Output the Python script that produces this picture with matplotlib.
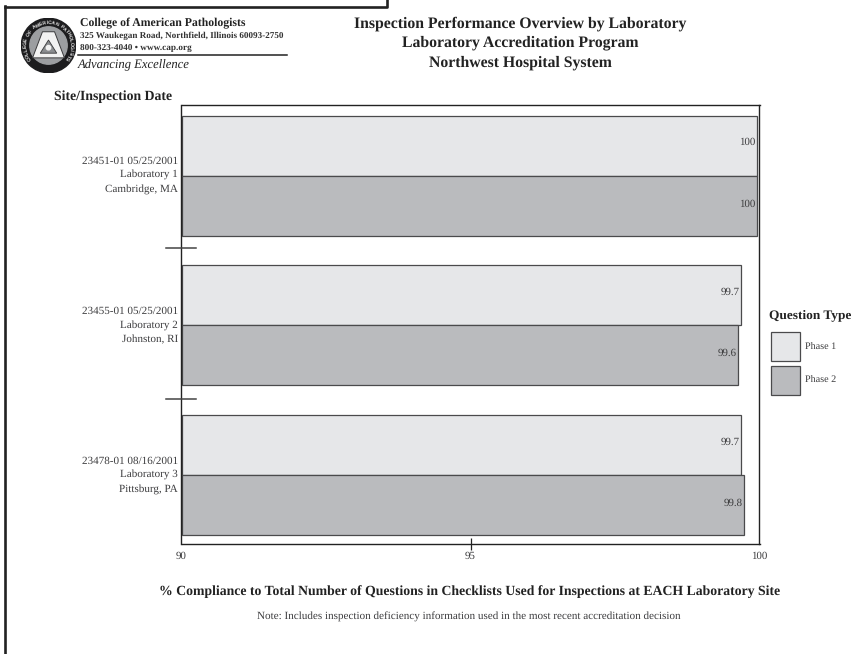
import numpy as np
import matplotlib
matplotlib.use("Agg")
import matplotlib.pyplot as plt
from matplotlib.patches import Circle, Polygon, Rectangle
from matplotlib.lines import Line2D

W, H = 854, 654
sites = ["23451-01 05/25/2001\nLaboratory 1\nCambridge, MA",
         "23455-01 05/25/2001\nLaboratory 2\nJohnston, RI",
         "23478-01 08/16/2001\nLaboratory 3\nPittsburg, PA"]
phase1 = [99.95, 99.68, 99.68]
phase2 = [99.96, 99.63, 99.74]
labels1 = ["100", "99.7", "99.7"]
labels2 = ["100", "99.6", "99.8"]
xticks = [90, 95, 100]
title_lines = ["Inspection Performance Overview by Laboratory",
               "Laboratory Accreditation Program",
               "Northwest Hospital System"]
C1, C2 = "#e6e7e9", "#babbbe"
EDGE = "#4a4a4c"
TXT = "#3c3c3e"
plt.rcParams["font.family"] = ["Liberation Serif"]
plt.rcParams["text.hinting"] = "no_hinting"
plt.rcParams["text.hinting_factor"] = 8

fig = plt.figure(figsize=(W/100, H/100), dpi=100)
def px(x, y):
    return x/W, 1-y/H

L, R, T, B = 181.5, 759.5, 105, 544
ax = fig.add_axes([L/W, 1-B/H, (R-L)/W, (B-T)/H])
ax.set_xlim(90, 100.0)
ax.set_ylim(B, T)
centers = [175.5, 325, 475]
bh = 60
for c, v1, v2, l1, l2 in zip(centers, phase1, phase2, labels1, labels2):
    ax.barh(c-bh/2, v1-90, left=90, height=bh, color=C1, edgecolor=EDGE, linewidth=0.9)
    ax.barh(c+bh/2, v2-90, left=90, height=bh, color=C2, edgecolor=EDGE, linewidth=0.9)
    ax.annotate(l1, (v1, c-bh/2), xytext=(-1, 2), textcoords="offset points", ha="right", va="center", fontsize=7.8, color=TXT)
    ax.annotate(l2, (v2, c+bh/2), xytext=(-1, 1), textcoords="offset points", ha="right", va="center", fontsize=7.8, color=TXT)
ax.set_yticks([])
ax.set_xticks(xticks)
ax.set_xticklabels([str(t) for t in xticks], fontsize=7.8, color=TXT)
ax.xaxis.set_tick_params(direction="inout", length=8, width=0.9, color="#222222", pad=1)
ticks = ax.xaxis.get_major_ticks()
for t in (ticks[0], ticks[2]):
    t.tick1line.set_visible(False)
for s in ax.spines.values():
    s.set_linewidth(1.0); s.set_color("#222222")

for y in (248, 398.5):
    fig.add_artist(Line2D([166/W, 196/W], [1-y/H]*2, color="#444444", lw=1.1))
for y, s in zip([175.5, 325.5, 475.5], sites):
    fig.text(178/W, 1-y/H, s, ha="right", va="center", fontsize=8.05, color=TXT, linespacing=1.55)

fig.text(*px(113.5, 97), "Site/Inspection Date", ha="center", va="center", fontsize=9.95, fontweight="bold", color="#222222")
for y, t in zip([24, 43, 63], title_lines):
    fig.text(*px(520, y), t, ha="center", va="center", fontsize=11.37, fontweight="bold", color="#222222")

fig.text(*px(80, 23), "College of American Pathologists", va="center", fontsize=8.5, fontweight="bold", color="#222222")
fig.text(*px(80, 36), "325 Waukegan Road, Northfield, Illinois 60093-2750", va="center", fontsize=6.6, fontweight="bold", color="#333333")
fig.text(*px(80, 48), "800-323-4040 \u2022 www.cap.org", va="center", fontsize=6.7, fontweight="bold", color="#333333")
fig.add_artist(Line2D([78/W, 287/W], [1-55/H]*2, color="#222222", lw=1.1))
fig.text(*px(78, 64), "Advancing Excellence", va="center", fontsize=9.05, fontstyle="italic", color="#222222")

# logo
la = fig.add_axes([21/W, 1-73/H, 55/W, 55/H]); la.set_xlim(-1, 1); la.set_ylim(-1, 1); la.axis("off")
la.add_patch(Circle((0, 0), 0.99, color="#1c1c1e"))
disc = Circle((0, 0), 0.68, color="#9c9ea1"); la.add_patch(disc)
im = la.imshow(np.linspace(0.85, 0.3, 64)[:, None], extent=(-1, 1, -1, 1), cmap="gray", vmin=0, vmax=1, aspect="auto")
im.set_clip_path(disc)
la.add_patch(Polygon([(-0.22, 0.5), (0.22, 0.5), (0.58, -0.45), (-0.58, -0.45)], closed=True, fc="#f2f2f2", ec="#3a3a3c", lw=0.7))
la.add_patch(Polygon([(0, 0.2), (0.3, -0.28), (-0.3, -0.28)], closed=True, fc="#8a8c8f", ec="#3a3a3c", lw=0.6))
la.add_patch(Circle((0, -0.08), 0.08, color="#f2f2f2"))
ring = "COLLEGE OF AMERICAN PATHOLOGISTS"
for a, ch in zip(np.deg2rad(np.linspace(215, -35, len(ring))), ring):
    la.text(0.83*np.cos(a), 0.83*np.sin(a), ch, rotation=np.rad2deg(a)-90, rotation_mode="anchor",
            ha="center", va="center", fontsize=3.6, fontweight="bold", color="#e8e8e8", family="Liberation Sans")

fig.text(*px(470, 592), "% Compliance to Total Number of Questions in Checklists Used for Inspections at EACH Laboratory Site",
         ha="center", va="center", fontsize=9.93, fontweight="bold", color="#222222")
fig.text(*px(469, 617), "Note: Includes inspection deficiency information used in the most recent accreditation decision",
         ha="center", va="center", fontsize=8.0, color=TXT)

fig.text(*px(769, 315), "Question Type", va="center", fontsize=9.6, fontweight="bold", color="#222222")
for y, c, t, ty in zip([331.5, 366], [C1, C2], ["Phase 1", "Phase 2"], [348, 381]):
    fig.add_artist(Rectangle((771/W, 1-(y+29)/H), 29/W, 29/H, transform=fig.transFigure, fc=c, ec=EDGE, lw=0.9))
    fig.text(*px(805, ty), t, va="center", fontsize=7.3, color=TXT)

fig.add_artist(Line2D([5/W, 5/W], [0, 1-6/H], color="#222222", lw=1.9))
fig.add_artist(Line2D([5/W, 387/W, 387/W], [1-6.5/H, 1-6.5/H, 1], color="#222222", lw=1.9))
fig.savefig("out.png", dpi=100)
